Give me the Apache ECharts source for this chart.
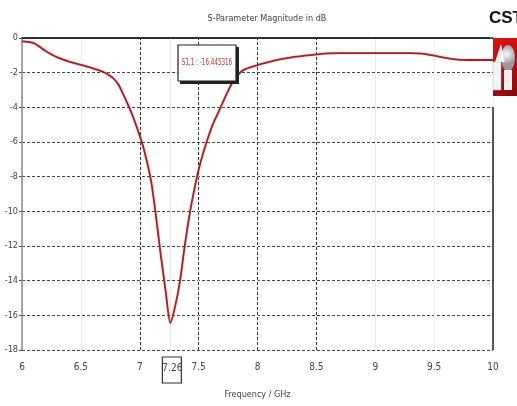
<!DOCTYPE html>
<html>
<head>
<meta charset="utf-8">
<script src="https://cdn.jsdelivr.net/npm/echarts@6/dist/echarts.min.js"></script>
<style>
  html, body { margin: 0; padding: 0; background: #fff; }
  #chart { width: 517px; height: 406px; }
</style>
</head>
<body>
<div id="chart"></div>
<script>
// S11 magnitude sweep, 6–10 GHz (finer steps around the resonance)
const freqGHz = [
  6.0, 6.1, 6.2, 6.3, 6.4,
  6.5, 6.54, 6.58, 6.62, 6.66, 6.70, 6.74, 6.78, 6.82, 6.86, 6.90, 6.94, 6.98,
  7.02, 7.06, 7.10, 7.14, 7.18, 7.22, 7.26, 7.30, 7.34, 7.38, 7.42, 7.46, 7.50,
  7.54, 7.58, 7.62, 7.66, 7.70, 7.74, 7.78, 7.82, 7.86, 7.90,
  8.0, 8.1, 8.2, 8.3, 8.4, 8.5, 8.6, 8.7, 8.8, 8.9, 9.0, 9.1, 9.2, 9.3, 9.4,
  9.5, 9.6, 9.7, 9.8, 9.9, 10.0
];
const s11dB = [
  -0.2, -0.3, -0.75, -1.12, -1.36,
  -1.55, -1.62, -1.70, -1.79, -1.88, -1.99, -2.15, -2.36, -2.70, -3.25, -3.85, -4.5, -5.25,
  -6.06, -7.1, -8.4, -10.4, -12.6, -14.6, -16.445316, -15.5, -14.1, -12.1, -10.3, -8.85, -7.6,
  -6.6, -5.75, -5.0, -4.4, -3.8, -3.2, -2.65, -2.25, -1.95, -1.78,
  -1.56, -1.38, -1.22, -1.1, -1.02, -0.95, -0.89, -0.87, -0.87, -0.87, -0.87, -0.87, -0.87, -0.87, -0.9,
  -1.02, -1.15, -1.25, -1.27, -1.27, -1.27
];

const xTicks = [6, 6.5, 7, 7.5, 8, 8.5, 9, 9.5, 10];
const yTicks = [0, -2, -4, -6, -8, -10, -12, -14, -16, -18];
const darkGridFreqs = [7, 7.5, 8, 8.5];
const markerFreq = 7.26;
const markerValue = -16.445316;

const lineColor = '#9e2226';
const narrowFont = "'Liberation Sans Narrow', 'DejaVu Sans Condensed', 'Liberation Sans', sans-serif";

const chart = echarts.init(document.getElementById('chart'), null, { renderer: 'canvas' });

const points = freqGHz.map((f, i) => [f, s11dB[i]]);

chart.setOption({
  animation: false,
  backgroundColor: '#ffffff',
  title: {
    text: 'S-Parameter Magnitude in dB',
    left: 262,
    top: 9,
    textAlign: 'center',
    textStyle: { fontSize: 9, fontWeight: 'normal', color: '#444', fontFamily: narrowFont }
  },
  grid: { left: 22, right: 24, top: 38, bottom: 56 },
  xAxis: {
    type: 'value',
    min: 6, max: 10, interval: 0.5,
    name: 'Frequency / GHz',
    nameLocation: 'middle',
    nameGap: 40,
    nameTextStyle: { fontSize: 9, color: '#444', fontFamily: narrowFont },
    axisLine: { lineStyle: { color: '#333', width: 1.5 } },
    axisTick: { show: false },
    axisLabel: {
      fontSize: 10, color: '#444', margin: 12, fontFamily: narrowFont,
      formatter: v => xTicks.includes(v) ? String(v) : ''
    },
    splitLine: { show: true, lineStyle: { color: '#ececec', width: 1 } }
  },
  yAxis: {
    type: 'value',
    min: -18, max: 0, interval: 2,
    axisLine: { show: true, lineStyle: { color: '#888', width: 1.5 } },
    axisTick: { show: true, length: 3, lineStyle: { color: '#555' } },
    axisLabel: {
      fontSize: 9, color: '#444', margin: 4, fontFamily: narrowFont,
      formatter: v => yTicks.includes(v) ? String(v) : ''
    },
    splitLine: { show: true, lineStyle: { color: '#444', type: [3, 2], width: 1 } }
  },
  series: [{
    type: 'line',
    data: points,
    smooth: 0.25,
    showSymbol: false,
    lineStyle: { color: lineColor, width: 1.8, shadowColor: 'rgba(210,80,80,0.45)', shadowBlur: 2 },
    markLine: {
      silent: true,
      symbol: 'none',
      label: { show: false },
      lineStyle: { color: '#333', type: [3, 2], width: 1 },
      data: darkGridFreqs.map(f => ({ xAxis: f }))
    },
    z: 5
  }]
});

// Frame pieces, marker annotations and logo placed from axis coordinates
const pTopLeft = chart.convertToPixel({ gridIndex: 0 }, [6, 0]);
const pTopRight = chart.convertToPixel({ gridIndex: 0 }, [10, 0]);
const pRightMid = chart.convertToPixel({ gridIndex: 0 }, [10, -4]);
const pBottomRight = chart.convertToPixel({ gridIndex: 0 }, [10, -18]);
const pMarker = chart.convertToPixel({ gridIndex: 0 }, [markerFreq, -18]);

chart.setOption({
  graphic: [
    // top border
    { type: 'line', shape: { x1: pTopLeft[0], y1: pTopLeft[1], x2: pTopRight[0] - 3, y2: pTopRight[1] },
      style: { stroke: '#222', lineWidth: 1.5 }, z: 10 },
    // right border (below logo)
    { type: 'line', shape: { x1: pRightMid[0], y1: pRightMid[1], x2: pBottomRight[0], y2: pBottomRight[1] },
      style: { stroke: '#222', lineWidth: 1.5 }, z: 10 },
    // faint marker line at resonance
    { type: 'line', shape: { x1: pMarker[0], y1: pTopLeft[1], x2: pMarker[0], y2: pMarker[1] },
      style: { stroke: '#e4e4e4', lineWidth: 1 }, z: 1 },
    // marker readout box with shadow edges
    { type: 'rect', shape: { x: 180, y: 47, width: 59, height: 37 }, style: { fill: '#222' }, z: 11 },
    { type: 'rect', shape: { x: 178, y: 45, width: 58, height: 36 },
      style: { fill: '#fff', stroke: '#222', lineWidth: 1.2 }, z: 12 },
    { type: 'text', x: 207, y: 63, z: 13, scaleX: 0.78,
      style: { text: 'S1,1 : ' + markerValue, fill: '#c0303a', fontSize: 8, fontFamily: narrowFont,
               align: 'center', verticalAlign: 'middle' } },
    // marker frequency box on the x axis
    { type: 'rect', shape: { x: pMarker[0] - 8, y: pMarker[1] + 7, width: 19, height: 26 },
      style: { fill: '#fff', stroke: '#333', lineWidth: 1.2 }, z: 11 },
    { type: 'text', x: pMarker[0] + 2, y: pMarker[1] + 18, z: 12,
      style: { text: String(markerFreq), fill: '#444', fontSize: 10, fontFamily: narrowFont,
               align: 'center', verticalAlign: 'middle' } },
    // CST wordmark
    { type: 'text', x: 489, y: 18, z: 12,
      style: { text: 'CST', fill: '#111', fontSize: 17, fontWeight: 'bold',
               fontFamily: "'Liberation Sans', Arial, sans-serif", verticalAlign: 'middle' } },
    // CST logo tile
    { type: 'rect', shape: { x: 493, y: 38, width: 26, height: 58 },
      style: { fill: new echarts.graphic.LinearGradient(0, 0, 1, 1, [
        { offset: 0, color: '#e01010' }, { offset: 1, color: '#8a0a0a' }]) }, z: 12 },
    { type: 'rect', shape: { x: 493, y: 62, width: 8, height: 28 },
      style: { fill: '#f4f4f4', stroke: '#bbb', lineWidth: 0.5 }, z: 13 },
    { type: 'ellipse', shape: { cx: 508, cy: 58, rx: 7, ry: 13 },
      style: { fill: new echarts.graphic.RadialGradient(0.4, 0.35, 0.7, [
        { offset: 0, color: '#ffffff' }, { offset: 1, color: '#9a9a9a' }]) }, z: 13 },
    { type: 'rect', shape: { x: 504, y: 70, width: 8, height: 20 },
      style: { fill: '#f0f0f0' }, z: 14 },
    { type: 'polygon', shape: { points: [[495, 62], [501, 44], [505, 62]] },
      style: { fill: '#f4f4f4' }, z: 13 }
  ]
});
</script>
</body>
</html>
